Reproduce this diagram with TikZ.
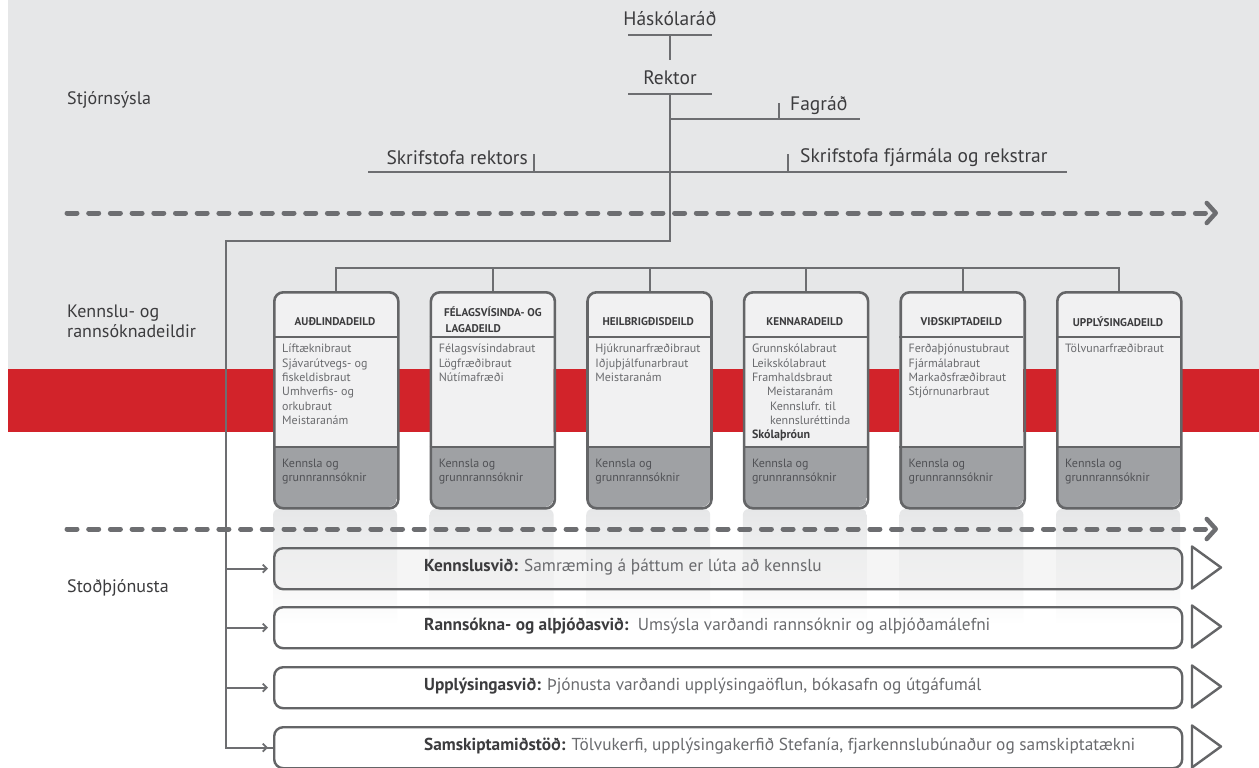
\documentclass[tikz,border=0pt]{standalone}
\usepackage{fontspec}
\setmainfont{PT Sans}
\usetikzlibrary{arrows.meta}
\definecolor{bggray}{HTML}{E6E7E8}
\definecolor{bandred}{HTML}{D2232A}
\definecolor{lgray}{HTML}{6D6E71}
\definecolor{bordergray}{HTML}{646567}
\definecolor{boxfill}{HTML}{F1F1F2}
\definecolor{boxdark}{HTML}{9FA1A4}
\definecolor{txtdark}{HTML}{3C3C3E}
\definecolor{txtgray}{HTML}{6A6B6E}
\definecolor{txtdim}{HTML}{505155}
\tikzset{
  orgline/.style={draw=lgray, line width=2pt},
  toplabel/.style={font=\fontsize{19.5}{22}\selectfont, text=txtdark, inner sep=0pt},
  sidelabel/.style={font=\fontsize{18}{20}\selectfont, text=txtdark, inner sep=0pt, align=left, anchor=west},
  deptframe/.style={draw=bordergray, line width=2.6pt, rounded corners=9pt, minimum width=124pt, minimum height=216pt, inner sep=0pt},
  headtxt/.style={font=\bfseries\fontsize{11.2}{16}\selectfont, text=txtdark, inner sep=0pt, align=left},
  bodytxt/.style={font=\fontsize{12}{14.35}\selectfont, text=txtgray, inner sep=0pt, align=left},
  bottxt/.style={font=\fontsize{12}{14.35}\selectfont, text=txtdim, inner sep=0pt, align=left},
  svcbox/.style={draw=bordergray, line width=2.4pt, rounded corners=9pt, minimum width=908pt, minimum height=41pt, inner sep=0pt, anchor=north west},
  svctxt/.style={font=\fontsize{17.3}{20}\selectfont, text=txtgray, inner sep=0pt, anchor=west},
  svcarrow/.style={draw=lgray, line width=1.8pt, -{Straight Barb[length=4pt,width=8pt]}, shorten >=5pt},
  flowdash/.style={draw=lgray, line width=5pt, line cap=round, dash pattern=on 10pt off 11.7pt, -{Straight Barb[length=9pt,width=20pt,line width=4.5pt, round]}},
  svctri/.style={draw=bordergray, line width=2.4pt, line join=round}
}
\newcommand{\deptbox}[4]{%
  \begin{scope}
    \clip[rounded corners=9pt] (#2,291) rectangle ++(124,216);
    \fill[boxfill] (#2,291) rectangle ++(124,156);
    \fill[boxdark] (#2,447) rectangle ++(124,60);
  \end{scope}
  \node[deptframe, anchor=north west] (#1) at (#2,291) {};
  \draw[draw=bordergray, line width=2.6pt] (#2,337) -- ++(124,0) (#2,447) -- ++(124,0);
  #3
  \node[bodytxt, anchor=north west] (#1b) at (#2+9,344) {#4};
  \node[bottxt, anchor=north west] (#1k) at (#2+9,459) {Kennsla og\\grunnrannsóknir};
}
\begin{document}
\begin{tikzpicture}[x=1pt,y=-1pt]
\useasboundingbox (0,0) rectangle (1259,768);
% backgrounds
\fill[white] (0,0) rectangle (1259,768);
\fill[bggray] (8,0) rectangle (1259,369);
\fill[bandred] (8,369) rectangle (1259,432);

% shaded columns under the departments
\foreach \l in {273,429.6,586.2,742.8,899.4,1056}{
  \shade[top color=bggray, bottom color=white, rounded corners=6pt] (\l,509) rectangle ++(124,116);
}

% side labels
\node[sidelabel] (lab1) at (67,100) {Stjórnsýsla};
\node[sidelabel] (lab2) at (67,321) {Kennslu- og\\rannsóknadeildir};
\node[sidelabel] (lab3) at (67,588) {Stoðþjónusta};

% top hierarchy
\node[toplabel] (hr) at (670,19) {Háskólaráð};
\node[toplabel] (rk) at (670,78) {Rektor};
\node[toplabel, anchor=west] (fg) at (790,106) {Fagráð};
\node[toplabel, anchor=east] (sr) at (528,158) {Skrifstofa rektors};
\node[toplabel, anchor=west] (sf) at (800,158) {Skrifstofa fjármála og rekstrar};

\coordinate (hrl) at (628,35);  \coordinate (hrr) at (712,35);
\coordinate (hrm) at (670,35);  \coordinate (hrd) at (670,60);
\coordinate (rkl) at (628,94);  \coordinate (rkr) at (712,94);
\coordinate (rkm) at (670,94);
\coordinate (fgj) at (670,119); \coordinate (fge) at (860,119);
\coordinate (fgt) at (779,103); \coordinate (fgb) at (779,119);
\coordinate (sfl) at (368,172); \coordinate (sfr) at (1067,172);
\coordinate (srt) at (534,154); \coordinate (srb) at (534,172);
\coordinate (sft) at (788,154); \coordinate (sfb) at (788,172);
\coordinate (rkend) at (670,241);
\coordinate (lft) at (226,241);

\draw[orgline] (hrl) -- (hrr) (hrm) -- (hrd);
\draw[orgline] (rkl) -- (rkr);
\draw[orgline] (fgj) -- (fge) (fgt) -- (fgb);
\draw[orgline] (sfl) -- (sfr) (srt) -- (srb) (sft) -- (sfb);

% dashed flow lines
\coordinate (d1s) at (67,213);  \coordinate (d1e) at (1218,213);
\coordinate (d2s) at (67,529);  \coordinate (d2e) at (1218,529);
\draw[flowdash] (d1s) -- (d1e);

% departments
\deptbox{dA}{273}{\node[headtxt] (dAh) at (335,322) {AUÐLINDADEILD};}{Líftæknibraut\\Sjávarútvegs- og\\fiskeldisbraut\\Umhverfis- og\\orkubraut\\Meistaranám}
\deptbox{dB}{429.6}{\node[headtxt, anchor=west] (dBh) at (444,320) {FÉLAGSVÍSINDA- OG\\\hspace*{1.5pt}LAGADEILD};}{Félagsvísindabraut\\Lögfræðibraut\\Nútímafræði}
\deptbox{dC}{586.2}{\node[headtxt] (dCh) at (648.2,322) {HEILBRIGÐISDEILD};}{Hjúkrunarfræðibraut\\Iðjuþjálfunarbraut\\Meistaranám}
\deptbox{dD}{742.8}{\node[headtxt] (dDh) at (804.8,322) {KENNARADEILD};}{Grunnskólabraut\\Leikskólabraut\\Framhaldsbraut\\\hspace*{15pt}Meistaranám\\\hspace*{18pt}Kennslufr. til\\\hspace*{18pt}kennsluréttinda\\\textbf{\textcolor{txtdark}{Skólaþróun}}}
\deptbox{dE}{899.4}{\node[headtxt] (dEh) at (961.4,322) {VIÐSKIPTADEILD};}{Ferðaþjónustubraut\\Fjármálabraut\\Markaðsfræðibraut\\Stjórnunarbraut}
\deptbox{dF}{1056}{\node[headtxt] (dFh) at (1118,322) {UPPLÝSINGADEILD};}{Tölvunarfræðibraut}

% bus to departments
\draw[orgline] (dA.north) -- ++(0,-23) -| (dF.north);
\foreach \d in {dB,dC,dD,dE}{ \draw[orgline] (\d.north) -- ++(0,-23); }

% second dashed line
\draw[flowdash] (d2s) -- (d2e);

% service boxes
\node[svcbox, fill=black!7, fill opacity=0.55, text opacity=1] (s1) at (273,547) {};
\node[svcbox] (s2) at (273,606) {};
\node[svcbox] (s3) at (273,666) {};
\node[svcbox] (s4) at (273,726) {};
\node[svctxt] (s1t) at (424,567.5) {\textbf{\textcolor{txtdark}{Kennslusvið:}} Samræming á þáttum er lúta að kennslu};
\node[svctxt] (s2t) at (424,626.5) {\textbf{\textcolor{txtdark}{Rannsókna- og alþjóðasvið:}}\ \ Umsýsla varðandi rannsóknir og alþjóðamálefni};
\node[svctxt] (s3t) at (424,686.5) {\textbf{\textcolor{txtdark}{Upplýsingasvið:}} Þjónusta varðandi upplýsingaöflun, bókasafn og útgáfumál};
\node[svctxt] (s4t) at (424,746.5) {\textbf{\textcolor{txtdark}{Samskiptamiðstöð:}} Tölvukerfi, upplýsingakerfið Stefanía, fjarkennslubúnaður og samskiptatækni};

% triangles
\foreach \c in {567.5,626.5,686.5,746.5}{
  \draw[svctri] (1192,\c-21) -- (1221,\c) -- (1192,\c+21) -- cycle;
}

% main connector from Rektor down to the support services
\draw[orgline] (rkm) -- (rkend) -- (lft) |- (s4.west);
\draw[svcarrow] (lft |- s1.west) -- (s1.west);
\draw[svcarrow] (lft |- s2.west) -- (s2.west);
\draw[svcarrow] (lft |- s3.west) -- (s3.west);
\draw[svcarrow] (lft |- s4.west) -- (s4.west);
\end{tikzpicture}
\end{document}
